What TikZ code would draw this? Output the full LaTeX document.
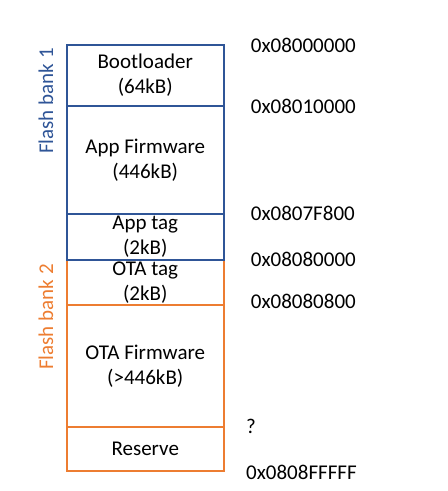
\documentclass[tikz,border=0pt]{standalone}
\usepackage{fontspec}
\setmainfont{Carlito}
\definecolor{bankone}{HTML}{2F5597}
\definecolor{banktwo}{HTML}{ED7D31}

\begin{document}
\begin{tikzpicture}[yscale=-1, x=1pt, y=1pt,
    font=\fontsize{21}{25}\selectfont,
    region/.style={draw=#1, line width=2pt, rectangle, inner sep=0pt,
      minimum width=156.5pt, anchor=north west, align=center},
    addr/.style={anchor=west, inner sep=0pt}]
    \useasboundingbox (0,0) rectangle (448,491);

    % flash bank 2 first, so the blue line stays on top
    \node[region=banktwo, minimum height=45pt] (otatag) at (66,258.7) {OTA tag\\(2kB)};
    \node[region=banktwo, minimum height=122.3pt] (otafw) at (66,303.7) {OTA Firmware\\(>446kB)};
    \node[region=banktwo, minimum height=44pt] (reserve) at (66,426) {Reserve};

    % flash bank 1
    \node[region=bankone, minimum height=60.4pt] (boot) at (66,44.3) {Bootloader\\(64kB)};
    \node[region=bankone, minimum height=108.3pt] (appfw) at (66,104.7) {App Firmware\\(446kB)};
    \node[region=bankone, minimum height=45.7pt] (apptag) at (66,213) {App tag\\(2kB)};

    \node[rotate=90, text=bankone] (bankA) at (46,101) {Flash bank 1};
    \node[rotate=90, text=banktwo] (bankB) at (46,317) {Flash bank 2};

    \node[addr] (adrA) at (250.7,45) {0x08000000};
    \node[addr] (adrB) at (250.7,106) {0x08010000};
    \node[addr] (adrC) at (250.7,213) {0x0807F800};
    \node[addr] (adrD) at (250.7,259) {0x08080000};
    \node[addr] (adrE) at (250.7,301) {0x08080800};
    \node[addr] (adrF) at (246,426.7) {?};
    \node[addr] (adrG) at (246,472.7) {0x0808FFFFF};
  \end{tikzpicture}
\end{document}
